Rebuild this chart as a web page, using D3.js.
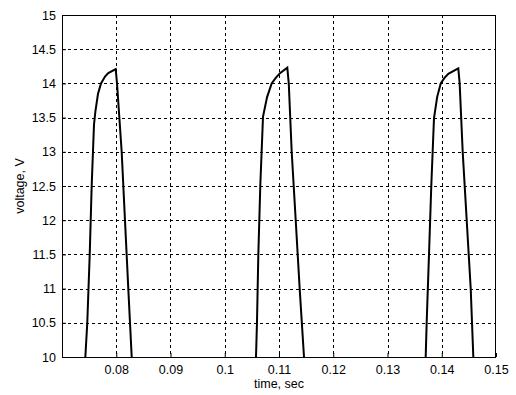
<!DOCTYPE html>
<html>
<head>
<meta charset="utf-8">
<script src="https://cdn.jsdelivr.net/npm/d3@7"></script>
<style>
  body { margin: 0; background: #fff; }
  svg text { font-family: "Liberation Sans", Arial, sans-serif; fill: #000; }
</style>
</head>
<body>
<svg id="chart"></svg>
<script>
// pulses: [time, voltage]
const pulse1 = [
  [0.07430, 10], [0.07466, 10.5], [0.07511, 11.5], [0.07547, 12.5], [0.07590, 13.4],
  [0.07617, 13.6], [0.07664, 13.85], [0.07719, 14.0], [0.07793, 14.1], [0.07853, 14.15],
  [0.07990, 14.21], [0.08014, 14.0], [0.08100, 13.0], [0.08161, 12.0], [0.08222, 11.0], [0.08285, 10]
]
const pulse2 = [
  [0.10576, 10], [0.10594, 10.5], [0.10619, 11.5], [0.10655, 12.5], [0.10705, 13.51],
  [0.10780, 13.8], [0.10865, 14.0], [0.10940, 14.08], [0.11018, 14.15],
  [0.11153, 14.23], [0.11180, 14.0], [0.11234, 13.0], [0.11308, 12.0], [0.11381, 11.0], [0.11461, 10]
]
const pulse3 = [
  [0.13704, 10], [0.13722, 10.5], [0.13765, 11.5], [0.13807, 12.5], [0.13857, 13.49],
  [0.13915, 13.8], [0.13981, 14.0], [0.14050, 14.08], [0.14121, 14.14],
  [0.14305, 14.22], [0.14330, 14.0], [0.14386, 13.0], [0.14460, 12.0], [0.14534, 11.0], [0.14582, 10]
]
const pulses = [pulse1, pulse2, pulse3]

const xTicks = [0.08, 0.09, 0.1, 0.11, 0.12, 0.13, 0.14, 0.15]
const yTicks = [10, 10.5, 11, 11.5, 12, 12.5, 13, 13.5, 14, 14.5, 15]

const width = 516, height = 395
const margin = {top: 15, right: 20, bottom: 38, left: 62}

let svg = d3.select('#chart')
    .attr('width', width)
    .attr('height', height)

const x = d3.scaleLinear().domain([0.07, 0.15]).range([margin.left, width - margin.right])
const y = d3.scaleLinear().domain([10, 15]).range([height - margin.bottom, margin.top])

// dashed grid
svg.append('g')
    .selectAll('line')
    .data(xTicks.filter(d => d < 0.15))
    .join('line')
    .attr('x1', d => Math.round(x(d)) + 0.5)
    .attr('x2', d => Math.round(x(d)) + 0.5)
    .attr('y1', y(15))
    .attr('y2', y(10))
    .attr('stroke', 'black')
    .attr('stroke-dasharray', '3,3')

svg.append('g')
    .selectAll('line')
    .data(yTicks.filter(d => d > 10 && d < 15))
    .join('line')
    .attr('x1', x(0.07))
    .attr('x2', x(0.15))
    .attr('y1', d => Math.round(y(d)) + 0.5)
    .attr('y2', d => Math.round(y(d)) + 0.5)
    .attr('stroke', 'black')
    .attr('stroke-dasharray', '3,3')

// axes, ticks point inward like matlab
const xAxis = d3.axisBottom(x).tickValues(xTicks).tickSize(-4).tickPadding(8).tickFormat(d3.format('~g'))
const yAxis = d3.axisLeft(y).tickValues(yTicks).tickSize(-4).tickPadding(6).tickFormat(d3.format('~g'))

let gx = svg.append('g')
    .attr('transform', `translate(0,${y(10)})`)
    .call(xAxis)
let gy = svg.append('g')
    .attr('transform', `translate(${x(0.07)},0)`)
    .call(yAxis)

for (let g of [gx, gy]) {
    g.select('.domain').remove()
    g.selectAll('text').attr('font-size', '12.5px').attr('font-family', '"Liberation Sans", Arial, sans-serif')
}

// box
svg.append('rect')
    .attr('x', x(0.07) + 0.5)
    .attr('y', y(15) + 0.5)
    .attr('width', x(0.15) - x(0.07) - 1)
    .attr('height', y(10) - y(15))
    .attr('fill', 'none')
    .attr('stroke', 'black')

svg.append('clipPath').attr('id', 'clip')
    .append('rect')
    .attr('x', x(0.07)).attr('y', y(15))
    .attr('width', x(0.15) - x(0.07)).attr('height', y(10) - y(15))

const line = d3.line().x(d => x(d[0])).y(d => y(d[1]))

svg.append('g')
    .attr('clip-path', 'url(#clip)')
    .selectAll('path')
    .data(pulses)
    .join('path')
    .attr('d', line)
    .attr('fill', 'none')
    .attr('stroke', 'black')
    .attr('stroke-width', 2)

svg.append('text')
    .attr('x', (x(0.07) + x(0.15)) / 2)
    .attr('y', 388)
    .attr('text-anchor', 'middle')
    .attr('font-size', '12.5px')
    .text('time, sec')

svg.append('text')
    .attr('transform', `translate(24,${(y(10) + y(15)) / 2}) rotate(-90)`)
    .attr('text-anchor', 'middle')
    .attr('font-size', '12.5px')
    .text('voltage, V')
</script>
</body>
</html>
